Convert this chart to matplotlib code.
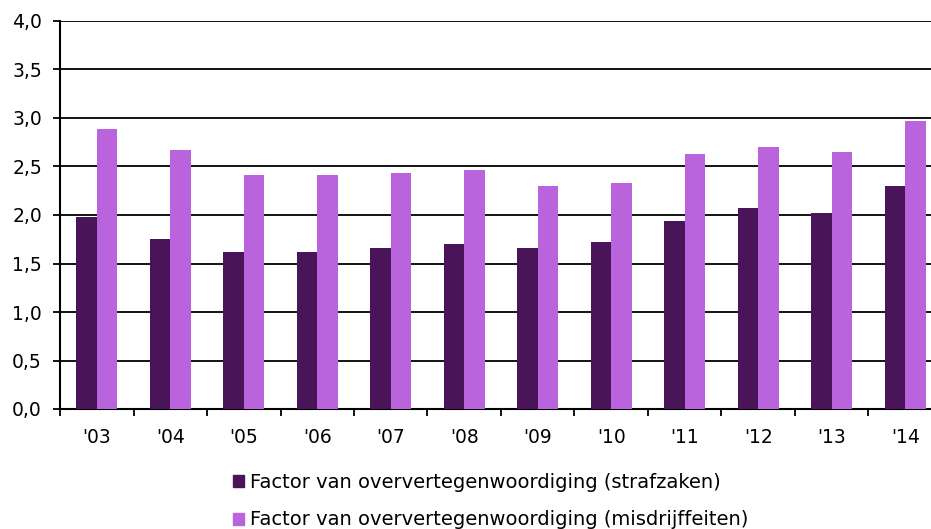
import matplotlib.pyplot as plt
import numpy as np
from matplotlib.patches import Patch

years = ["'03", "'04", "'05", "'06", "'07", "'08", "'09", "'10", "'11", "'12", "'13", "'14"]
strafzaken = [1.98, 1.75, 1.62, 1.62, 1.66, 1.70, 1.66, 1.72, 1.94, 2.07, 2.02, 2.30]
misdrijffeiten = [2.89, 2.67, 2.41, 2.41, 2.43, 2.46, 2.30, 2.33, 2.63, 2.70, 2.65, 2.97]

label_1 = 'Factor van oververtegenwoordiging (strafzaken)'
label_2 = 'Factor van oververtegenwoordiging (misdrijffeiten)'
dark = '#4a1558'
light = '#b963dc'
fs = 13.5

W, H = 931, 529
fig = plt.figure(figsize=(W / 100, H / 100), dpi=100)
# axis runs past the right edge, as in the original crop
ax = fig.add_axes([60 / W, (H - 409) / H, (942 - 60) / W, (409 - 21) / H])

x = np.arange(len(years))
bw = 0.28
ax.bar(x - bw / 2, strafzaken, bw, color=dark, zorder=3)
ax.bar(x + bw / 2, misdrijffeiten, bw, color=light, zorder=3)

ax.set_xlim(-0.5, len(years) - 0.5)
ax.set_ylim(0, 4.0)
yt = np.arange(0, 4.01, 0.5)
ax.set_yticks(yt)
ax.set_yticklabels([f'{v:.1f}'.replace('.', ',') for v in yt])
ax.yaxis.grid(True, color='black', linewidth=1.3, zorder=0)
ax.set_axisbelow(True)

# tick marks between categories, labels at centres
ax.set_xticks(np.arange(-0.5, len(years), 1.0))
ax.set_xticklabels([])
ax.set_xticks(x, minor=True)
ax.set_xticklabels(years, minor=True)
ax.tick_params(axis='x', which='minor', length=0, pad=14)
ax.tick_params(axis='x', which='major', length=5, width=1.3)
ax.tick_params(axis='y', length=5, width=1.3, pad=8)
ax.tick_params(which='both', labelsize=fs, colors='black')

for s in ['top', 'right']:
    ax.spines[s].set_visible(False)
for s in ['left', 'bottom']:
    ax.spines[s].set_linewidth(1.5)

handles = [Patch(color=dark, label=label_1), Patch(color=light, label=label_2)]
fig.legend(handles=handles, loc='upper left', bbox_to_anchor=(233 / W, 1 - 473 / H),
           frameon=False, fontsize=14, handlelength=0.56, handleheight=0.56,
           handletextpad=0.33, labelspacing=0.95, borderpad=0, borderaxespad=0)

plt.savefig('out.png', dpi=100)
